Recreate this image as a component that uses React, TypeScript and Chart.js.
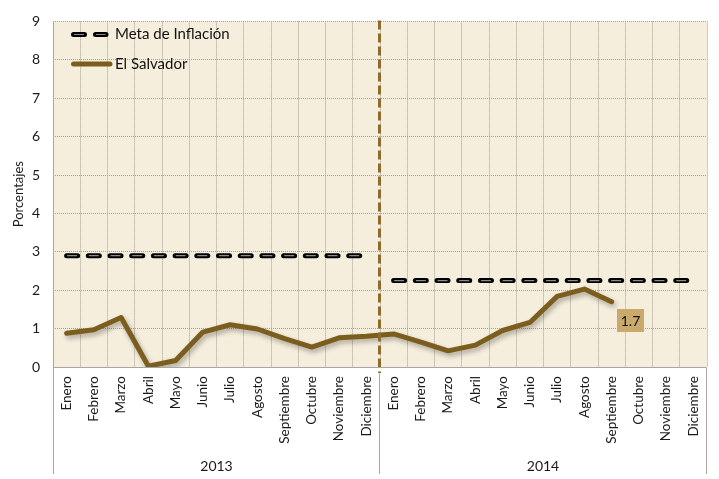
import React, { useEffect, useRef } from "react";
import { Chart, registerables } from "chart.js";

Chart.register(...registerables);

const months = ["Enero", "Febrero", "Marzo", "Abril", "Mayo", "Junio", "Julio", "Agosto", "Septiembre", "Octubre", "Noviembre", "Diciembre"];
const years = ["2013", "2014"];
const categories = [...months, ...months];

const elSalvador = [0.88, 0.97, 1.29, 0.02, 0.17, 0.91, 1.1, 0.99, 0.74, 0.52, 0.76, 0.8, 0.86, 0.65, 0.42, 0.57, 0.95, 1.16, 1.84, 2.03, 1.7, null, null, null];
const metaInflacion = [2.9, 2.9, 2.9, 2.9, 2.9, 2.9, 2.9, 2.9, 2.9, 2.9, 2.9, 2.9, 2.25, 2.25, 2.25, 2.25, 2.25, 2.25, 2.25, 2.25, 2.25, 2.25, 2.25, 2.25];
const yTicks = [0, 1, 2, 3, 4, 5, 6, 7, 8, 9];
const seriesNames = ["Meta de Inflación", "El Salvador"];
const yTitle = "Porcentajes";
const lastLabelIndex = 20;
const lastLabelText = "1.7";

const FONT = "Lato, 'Noto Sans', sans-serif";
const BROWN = "#7B5D1E";
const DASHED_BROWN = "#8C6B2C";
const BG = "#F5EEDD";
const AXIS = "#A6A6A6";

const meta2013 = metaInflacion.map((v, i) => (i < 12 ? v : null));
const meta2014 = metaInflacion.map((v, i) => (i >= 12 ? v : null));

const customPlugin = {
  id: "custom",
  beforeDraw(chart: any) {
    const { ctx, chartArea: a } = chart;
    ctx.save();
    ctx.fillStyle = BG;
    ctx.fillRect(a.left, a.top, a.right - a.left, a.bottom - a.top);
    ctx.restore();
  },
  beforeDatasetDraw(chart: any, args: any) {
    const ds = chart.data.datasets[args.index];
    chart.ctx.save();
    if (ds.label === seriesNames[1]) {
      const ctx = chart.ctx;
      ctx.shadowColor = "rgba(0,0,0,0.3)";
      ctx.shadowBlur = 5;
      ctx.shadowOffsetX = 2;
      ctx.shadowOffsetY = 3;
    }
  },
  afterDatasetDraw(chart: any) {
    chart.ctx.restore();
  },
  afterDatasetsDraw(chart: any) {
    const { ctx, chartArea: a, scales } = chart;
    const x = scales.x;
    const midX = Math.round((x.getPixelForValue(11) + x.getPixelForValue(12)) / 2) - 0.5;
    ctx.save();
    ctx.strokeStyle = DASHED_BROWN;
    ctx.lineWidth = 3;
    ctx.setLineDash([9, 4]);
    ctx.beginPath();
    ctx.moveTo(midX, a.top - 1);
    ctx.lineTo(midX, a.bottom + 6);
    ctx.stroke();
    ctx.setLineDash([]);
    ctx.restore();
  },
  afterDraw(chart: any) {
    const { ctx, chartArea: a, scales } = chart;
    const x = scales.x;
    const y = scales.y;
    const left = Math.round(a.left) + 0.5;
    const right = Math.round(a.right) - 0.5;
    const bottom = Math.round(a.bottom) + 0.5;
    const midX = Math.round((x.getPixelForValue(11) + x.getPixelForValue(12)) / 2) - 0.5;
    const sepBottom = 474;
    ctx.save();
    ctx.strokeStyle = AXIS;
    ctx.lineWidth = 1;
    ctx.setLineDash([]);
    ctx.beginPath();
    ctx.moveTo(left, a.top);
    ctx.lineTo(left, sepBottom);
    ctx.moveTo(left, bottom);
    ctx.lineTo(right, bottom);
    ctx.moveTo(right, bottom);
    ctx.lineTo(right, sepBottom);
    ctx.moveTo(midX, bottom + 6);
    ctx.lineTo(midX, sepBottom);
    ctx.stroke();

    // year labels
    ctx.fillStyle = "#1a1a1a";
    ctx.font = `14px ${FONT}`;
    ctx.textAlign = "center";
    ctx.textBaseline = "middle";
    ctx.fillText(years[0], (left + midX) / 2, 466);
    ctx.fillText(years[1], (midX + right) / 2, 466);

    // y title
    ctx.save();
    ctx.translate(19, (a.top + a.bottom) / 2);
    ctx.rotate(-Math.PI / 2);
    ctx.font = `13px ${FONT}`;
    ctx.fillText(yTitle, 0, 0);
    ctx.restore();

    // data label
    const px = x.getPixelForValue(lastLabelIndex);
    const py = y.getPixelForValue(elSalvador[lastLabelIndex] as number);
    const bx = Math.round(px + 5);
    const by = Math.round(py + 7);
    ctx.fillStyle = "#C9A96C";
    ctx.fillRect(bx, by, 27, 23);
    ctx.fillStyle = "#111";
    ctx.font = `14px ${FONT}`;
    ctx.textAlign = "center";
    ctx.textBaseline = "middle";
    ctx.fillText(lastLabelText, bx + 13.5, by + 12);

    // legend
    const l1y = 34.5;
    const l2y = 64;
    ctx.lineCap = "round";
    ctx.strokeStyle = "#000";
    ctx.lineWidth = 5;
    ctx.beginPath();
    ctx.moveTo(73.5, l1y);
    ctx.lineTo(84.5, l1y);
    ctx.moveTo(95.5, l1y);
    ctx.lineTo(106, l1y);
    ctx.stroke();
    ctx.lineCap = "butt";
    ctx.strokeStyle = "#8a8a8a";
    ctx.lineWidth = 1.2;
    ctx.beginPath();
    ctx.moveTo(74, l1y);
    ctx.lineTo(84, l1y);
    ctx.moveTo(96, l1y);
    ctx.lineTo(105.5, l1y);
    ctx.stroke();
    ctx.lineCap = "round";
    ctx.strokeStyle = BROWN;
    ctx.lineWidth = 5;
    ctx.beginPath();
    ctx.moveTo(73.5, l2y);
    ctx.lineTo(110, l2y);
    ctx.stroke();
    ctx.fillStyle = "#111";
    ctx.font = `15px ${FONT}`;
    ctx.textAlign = "left";
    ctx.textBaseline = "middle";
    ctx.fillText(seriesNames[0], 115, l1y);
    ctx.fillText(seriesNames[1], 115, l2y);
    ctx.restore();
  },
};

export default function App() {
  const ref = useRef<HTMLCanvasElement | null>(null);
  useEffect(() => {
    if (!ref.current) return;
    const metaCommon = {
      pointRadius: 0,
      fill: false,
      tension: 0,
      spanGaps: false,
    };
    const chart = new Chart(ref.current, {
      type: "line",
      data: {
        labels: categories,
        datasets: [
          { ...metaCommon, label: "meta-inner-2013", data: meta2013, borderColor: "#8a8a8a", borderWidth: 1.2, borderDash: [10, 11.7], borderDashOffset: -0.5, borderCapStyle: "butt", order: 0 },
          { ...metaCommon, label: "meta-inner-2014", data: meta2014, borderColor: "#8a8a8a", borderWidth: 1.2, borderDash: [10, 11.7], borderDashOffset: -0.5, borderCapStyle: "butt", order: 0 },
          { ...metaCommon, label: seriesNames[0], data: meta2013, borderColor: "#000", borderWidth: 5, borderDash: [11, 10.7], borderCapStyle: "round", order: 1 },
          { ...metaCommon, label: seriesNames[0] + " 2014", data: meta2014, borderColor: "#000", borderWidth: 5, borderDash: [11, 10.7], borderCapStyle: "round", order: 1 },
          { label: seriesNames[1], data: elSalvador, borderColor: BROWN, borderWidth: 5, pointRadius: 0, tension: 0, fill: false, borderJoinStyle: "round", borderCapStyle: "round", spanGaps: false, order: 2 },
        ] as any,
      },
      options: {
        responsive: false,
        animation: false,
        layout: { padding: { top: 13, right: 12, left: 0, bottom: 0 } },
        plugins: { legend: { display: false }, tooltip: { enabled: false } },
        scales: {
          x: {
            type: "category",
            offset: true,
            grid: { offset: true, color: "#a49e92", lineWidth: 1, drawTicks: false },
            border: { display: false, dash: [1, 1] },
            ticks: { autoSkip: false, maxRotation: 90, minRotation: 90, padding: 9, color: "#1a1a1a", font: { family: FONT, size: 13.5 } },
            afterFit: (s: any) => { s.height = 112; },
          },
          y: {
            min: yTicks[0],
            max: yTicks[yTicks.length - 1],
            afterBuildTicks: (s: any) => { s.ticks = yTicks.map((v) => ({ value: v })); },
            grid: { color: "#a49e92", lineWidth: 1, drawTicks: false },
            border: { display: false, dash: [1, 1] },
            ticks: { padding: 13, color: "#1a1a1a", font: { family: FONT, size: 14 } },
            afterFit: (s: any) => { s.width = 53; },
          },
        },
      } as any,
      plugins: [customPlugin],
    });
    return () => chart.destroy();
  }, []);
  return (
    <div style={{ position: "absolute", left: 0, top: 0, width: 719, height: 479 }}>
      <canvas ref={ref} width={719} height={479} style={{ width: 719, height: 479 }} />
    </div>
  );
}
